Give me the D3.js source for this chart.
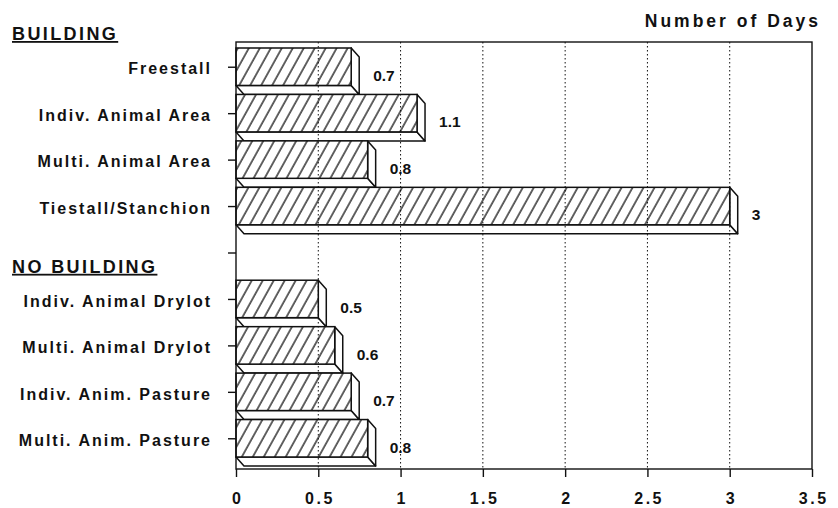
<!DOCTYPE html>
<html>
<head>
<meta charset="utf-8">
<script src="https://cdn.jsdelivr.net/npm/d3@7"></script>
<style>
  body { margin: 0; background: #fff; }
  svg text { font-family: "Liberation Sans", Arial, sans-serif; font-weight: bold; fill: #111; }
</style>
</head>
<body>
<svg id="chart" width="838" height="508"></svg>
<script>
// rows of the chart, "" is the blank row between the two groups
const categories = ["Freestall", "Indiv. Animal Area", "Multi. Animal Area", "Tiestall/Stanchion", "",
    "Indiv. Animal Drylot", "Multi. Animal Drylot", "Indiv. Anim. Pasture", "Multi. Anim. Pasture"]
const days = [0.7, 1.1, 0.8, 3, null, 0.5, 0.6, 0.7, 0.8]
const xTicks = [0, 0.5, 1, 1.5, 2, 2.5, 3, 3.5]
const groupHeaders = ["BUILDING", "NO BUILDING"]
const axisTitle = "Number of Days"

const svg = d3.select("#chart")
const plot = { left: 236, right: 812, top: 42, bottom: 469 }
const depth = { dx: 8, dy: 9 }

const x = d3.scaleLinear().domain([0, 3.5]).range([plot.left, plot.right])
const y = d3.scaleBand().domain(categories).range([44, 462]).padding(0)

// hatch fill
const defs = svg.append("defs")
const pat = defs.append("pattern")
    .attr("id", "hatch")
    .attr("patternUnits", "userSpaceOnUse")
    .attr("width", 9.6).attr("height", 10)
    .attr("patternTransform", "rotate(29)")
pat.append("rect").attr("width", 9.6).attr("height", 10).attr("fill", "#fff")
pat.append("path").attr("d", "M1,0V10").attr("stroke", "#111").attr("stroke-width", 1.3)

const rows = categories.map((c, i) => ({ cat: c, v: days[i] })).filter(d => d.v != null)
const barH = y.bandwidth() - depth.dy

const bars = svg.append("g").attr("class", "bars")
rows.forEach(d => {
    let x0 = x(0), x1 = x(d.v)
    let y0 = y(d.cat) + 4, y1 = y0 + barH
    let g = bars.append("g")
    // bottom face
    g.append("polygon")
        .attr("points", [[x0, y1], [x1, y1], [x1 + depth.dx, y1 + depth.dy], [x0 + depth.dx, y1 + depth.dy]].join(" "))
        .attr("fill", "#fff").attr("stroke", "#111").attr("stroke-width", 1.5).attr("stroke-linejoin", "round")
    // side face
    g.append("polygon")
        .attr("points", [[x1, y0], [x1 + depth.dx, y0 + depth.dy], [x1 + depth.dx, y1 + depth.dy], [x1, y1]].join(" "))
        .attr("fill", "#fff").attr("stroke", "#111").attr("stroke-width", 1.5).attr("stroke-linejoin", "round")
    // front face
    g.append("rect")
        .attr("x", x0).attr("y", y0)
        .attr("width", x1 - x0).attr("height", barH)
        .attr("fill", "url(#hatch)").attr("stroke", "#111").attr("stroke-width", 1.5)
    // value label
    g.append("text")
        .attr("x", x1 + 22).attr("y", y(d.cat) + 37)
        .attr("font-size", "15.5px")
        .text(d.v)
})

// dotted grid over the bars
svg.append("g").selectAll("line")
    .data(xTicks.filter(t => t > 0 && t < 3.5))
    .join("line")
    .attr("x1", d => x(d)).attr("x2", d => x(d))
    .attr("y1", plot.top).attr("y2", plot.bottom)
    .attr("stroke", "#111").attr("stroke-width", 1).attr("stroke-dasharray", "1.5,2.5")

// frame
svg.append("rect")
    .attr("x", plot.left).attr("y", plot.top)
    .attr("width", plot.right - plot.left).attr("height", plot.bottom - plot.top)
    .attr("fill", "none").attr("stroke", "#111").attr("stroke-width", 1.4)

// x axis
const xAxis = svg.append("g")
    .attr("transform", `translate(0,${plot.bottom})`)
    .call(d3.axisBottom(x).tickValues(xTicks).tickFormat(d => d).tickSize(8).tickSizeOuter(0).tickPadding(16))
xAxis.select(".domain").remove()
xAxis.selectAll("line").attr("stroke", "#111").attr("stroke-width", 1.4)
xAxis.selectAll("text")
    .attr("font-size", "16px").attr("letter-spacing", "2.5px")
    .attr("dx", "1.2px")
    .attr("font-family", null)

// y axis
const ls = 2
const yAxis = svg.append("g")
    .attr("transform", `translate(${plot.left},0)`)
    .call(d3.axisLeft(y).tickSize(8).tickSizeOuter(0).tickPadding(18))
yAxis.select(".domain").remove()
yAxis.selectAll("line").attr("stroke", "#111").attr("stroke-width", 1.4)
yAxis.selectAll("text")
    .attr("font-size", "16px").attr("letter-spacing", ls + "px")
    .attr("x", -26 + ls)
    .attr("dy", "0.45em")
    .attr("font-family", null)

// group headers
const headY = [y(categories[0]) - 4, y("") + 43]
svg.append("g").selectAll("text")
    .data(groupHeaders)
    .join("text")
    .attr("x", 12).attr("y", (d, i) => headY[i])
    .attr("font-size", "18px").attr("letter-spacing", "2.4px")
    .attr("text-decoration", "underline")
    .text(d => d)

// axis title
svg.append("text")
    .attr("x", 818 + 3).attr("y", 27)
    .attr("text-anchor", "end")
    .attr("font-size", "17.5px").attr("letter-spacing", "3px")
    .text(axisTitle)
</script>
</body>
</html>
